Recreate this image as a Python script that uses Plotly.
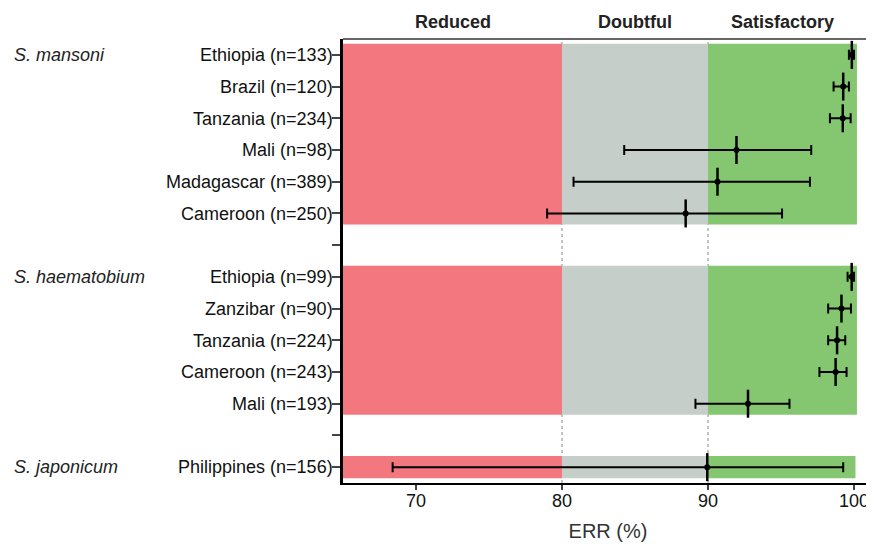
import plotly.graph_objects as go

# ---- data ----
species = ["S. mansoni", "S. haematobium", "S. japonicum"]
mansoni_sites = ["Ethiopia", "Brazil", "Tanzania", "Mali", "Madagascar", "Cameroon"]
mansoni_n = [133, 120, 234, 98, 389, 250]
mansoni_err = [99.85, 99.26, 99.23, 91.95, 90.65, 88.47]
mansoni_lo = [99.65, 98.6, 98.35, 84.26, 80.79, 78.98]
mansoni_hi = [100.0, 99.65, 99.77, 97.07, 96.98, 95.07]

haem_sites = ["Ethiopia", "Zanzibar", "Tanzania", "Cameroon", "Mali"]
haem_n = [99, 90, 224, 243, 193]
haem_err = [99.84, 99.14, 98.84, 98.74, 92.74]
haem_lo = [99.56, 98.23, 98.23, 97.63, 89.14]
haem_hi = [100.0, 99.79, 99.4, 99.49, 95.58]

jap_sites = ["Philippines"]
jap_n = [156]
jap_err = [89.95]
jap_lo = [68.4]
jap_hi = [99.26]

x_ticks = [70, 80, 90, 100]
thresholds = [80, 90]
categories = ["Reduced", "Doubtful", "Satisfactory"]

# ---- layout of rows ----
groups = [
    (mansoni_sites, mansoni_n, mansoni_err, mansoni_lo, mansoni_hi),
    (haem_sites, haem_n, haem_err, haem_lo, haem_hi),
    (jap_sites, jap_n, jap_err, jap_lo, jap_hi),
]
XMIN, XMAX = 65, 101.3
ys, xs, lo_e, hi_e = [], [], [], []
tickvals, ticktext = [], []
group_spans = []
row = 0
for gi, (sites, ns, err, lo, hi) in enumerate(groups):
    start = row
    for s, n, e, l, h in zip(sites, ns, err, lo, hi):
        ys.append(row)
        xs.append(e)
        lo_e.append(e - l)
        hi_e.append(h - e)
        tickvals.append(row)
        ticktext.append(f"{s} (n={n})")
        row += 1
    group_spans.append((start, row - 1))
    if gi < len(groups) - 1:
        tickvals.append(row)
        ticktext.append("")
        row += 1
nrows = row

RED, GREY, GREEN = "#F2777F", "#C5CEC8", "#85C770"
band_right = [100.2, 100.2, 100.1]

shapes = []
for (a, b), rr in zip(group_spans, band_right):
    y0, y1 = a - 0.35, b + 0.35
    for x0, x1, c in [(XMIN, thresholds[0], RED), (thresholds[0], thresholds[1], GREY), (thresholds[1], rr, GREEN)]:
        shapes.append(dict(type="rect", xref="x", yref="y", x0=x0, x1=x1, y0=y0, y1=y1,
                           fillcolor=c, line=dict(width=0), layer="below"))
for t in thresholds:
    shapes.append(dict(type="line", xref="x", yref="paper", x0=t, x1=t, y0=0, y1=1,
                       line=dict(color="#888888", width=1, dash="dot"), layer="below"))
# top border line
shapes.append(dict(type="line", xref="paper", yref="paper", x0=0, x1=1, y0=1, y1=1,
                   line=dict(color="#333333", width=1.5)))

fig = go.Figure()
fig.add_trace(go.Scatter(
    x=xs, y=ys, mode="markers",
    marker=dict(symbol="circle", size=6, color="black"),
    error_x=dict(type="data", symmetric=False, array=hi_e, arrayminus=lo_e,
                 color="black", thickness=2, width=5),
    showlegend=False, hoverinfo="skip"))
fig.add_trace(go.Scatter(
    x=xs, y=ys, mode="markers",
    marker=dict(symbol="line-ns", size=20, line=dict(width=2.5, color="black")),
    showlegend=False, hoverinfo="skip"))

PLOT_W = 530
annotations = []
hdr_pos = [(XMIN + thresholds[0]) / 2, (thresholds[0] + thresholds[1]) / 2, (thresholds[1] + band_right[0]) / 2]
for txt, xp in zip(categories, hdr_pos):
    annotations.append(dict(x=xp, y=1.038, xref="x", yref="paper", text=f"<b>{txt}</b>",
                            showarrow=False, font=dict(size=18, color="#222222"),
                            xanchor="center", yanchor="middle"))
for name, (a, b) in zip(species, group_spans):
    annotations.append(dict(x=-(343 - 12) / PLOT_W, y=a, xref="paper", yref="y", text=f"<i>{name}</i>",
                            showarrow=False, font=dict(size=18, color="#222222"),
                            xanchor="left", yanchor="middle"))

# page body has an 8px margin; size the figure so the plot lands where the reference has it
fig.update_layout(
    width=866, height=536,
    margin=dict(l=335, r=1, t=31, b=61),
    plot_bgcolor="white", paper_bgcolor="white",
    font=dict(family="Liberation Sans, Arial, sans-serif", size=18, color="#111111"),
    shapes=shapes, annotations=annotations,
    xaxis=dict(range=[XMIN, XMAX], tickvals=x_ticks, ticks="outside", ticklen=5, tickwidth=2,
               showline=True, linewidth=2, linecolor="black", showgrid=False, zeroline=False,
               tickfont=dict(size=18, color="#111111"), ticklabelstandoff=-5,
               title=dict(text="ERR (%)", font=dict(size=20, color="#333333"), standoff=14)),
    yaxis=dict(range=[nrows - 0.5, -0.5], tickvals=tickvals, ticktext=ticktext,
               ticks="outside", ticklen=8, tickwidth=2, showline=True, linewidth=2.5,
               linecolor="black", showgrid=False, zeroline=False, ticklabelstandoff=-4,
               tickfont=dict(size=18, color="#111111")),
)
fig.write_html("out.html")
